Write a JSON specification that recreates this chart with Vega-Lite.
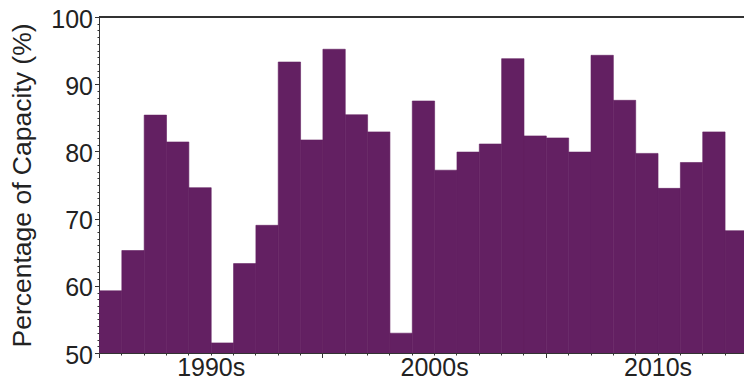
{
  "$schema": "https://vega.github.io/schema/vega-lite/v6.json",
  "width": 645,
  "height": 336,
  "autosize": "none",
  "padding": {"left": 99, "top": 17, "right": 0, "bottom": 25},
  "background": "white",
  "config": {"view": {"stroke": null}, "font": "Liberation Sans"},
  "data": {
    "values": [
      {"year": 1990, "pct": 59.25},
      {"year": 1991, "pct": 65.25},
      {"year": 1992, "pct": 85.4},
      {"year": 1993, "pct": 81.4},
      {"year": 1994, "pct": 74.6},
      {"year": 1995, "pct": 51.5},
      {"year": 1996, "pct": 63.3},
      {"year": 1997, "pct": 69.0},
      {"year": 1998, "pct": 93.3},
      {"year": 1999, "pct": 81.7},
      {"year": 2000, "pct": 95.2},
      {"year": 2001, "pct": 85.45},
      {"year": 2002, "pct": 82.9},
      {"year": 2003, "pct": 52.95},
      {"year": 2004, "pct": 87.5},
      {"year": 2005, "pct": 77.2},
      {"year": 2006, "pct": 79.9},
      {"year": 2007, "pct": 81.1},
      {"year": 2008, "pct": 93.8},
      {"year": 2009, "pct": 82.3},
      {"year": 2010, "pct": 82.0},
      {"year": 2011, "pct": 79.9},
      {"year": 2012, "pct": 94.3},
      {"year": 2013, "pct": 87.6},
      {"year": 2014, "pct": 79.7},
      {"year": 2015, "pct": 74.5},
      {"year": 2016, "pct": 78.35},
      {"year": 2017, "pct": 82.9},
      {"year": 2018, "pct": 68.2}
    ]
  },
  "layer": [
    {
      "mark": {"type": "bar", "color": "#632062", "stroke": "#632062", "strokeWidth": 0.6, "clip": true, "binSpacing": 0},
      "encoding": {
        "x": {
          "field": "year",
          "type": "quantitative",
          "bin": {"binned": true, "step": 1},
          "scale": {"domain": [1990, 2018.87], "nice": false, "zero": false},
          "axis": {
            "title": null,
            "grid": false,
            "tickCount": 100,
            "values": [1990,1991,1992,1993,1994,1995,1996,1997,1998,1999,2000,2001,2002,2003,2004,2005,2006,2007,2008,2009,2010,2011,2012,2013,2014,2015,2016,2017,2018],
            "labelExpr": "datum.value % 10 == 5 ? (datum.value - 5) + 's' : ''",
            "labelOverlap": false,
            "labelFlush": false,
            "labelFontSize": 25,
            "labelColor": "#222",
            "labelPadding": 0,
            "tickSize": {"condition": {"test": "datum.value % 10 == 0", "value": 4.5}, "value": 2},
            "tickColor": "#333",
            "domainColor": "#333"
          }
        },
        "y": {
          "field": "pct",
          "type": "quantitative",
          "scale": {"domain": [50, 100], "nice": false, "zero": false},
          "axis": {
            "title": "Percentage of Capacity (%)",
            "grid": false,
            "tickCount": 100,
            "values": [50,51,52,53,54,55,56,57,58,59,60,61,62,63,64,65,66,67,68,69,70,71,72,73,74,75,76,77,78,79,80,81,82,83,84,85,86,87,88,89,90,91,92,93,94,95,96,97,98,99,100],
            "labelExpr": "datum.value % 10 == 0 ? datum.value : ''",
            "labelOverlap": false,
            "labelFlush": false,
            "labelFontSize": 25,
            "labelColor": "#222",
            "labelPadding": 2,
            "labelOffset": 2,
            "titleFontSize": 26.5,
            "titleFontWeight": "normal",
            "titleColor": "#222",
            "titlePadding": 14,
            "tickSize": {"condition": {"test": "datum.value % 10 == 0", "value": 4.5}, "value": 2},
            "tickColor": "#333",
            "domainColor": "#333"
          }
        }
      }
    },
    {
      "mark": {"type": "rule", "color": "#333", "strokeWidth": 1.5},
      "encoding": {"y": {"datum": 100}}
    }
  ]
}
